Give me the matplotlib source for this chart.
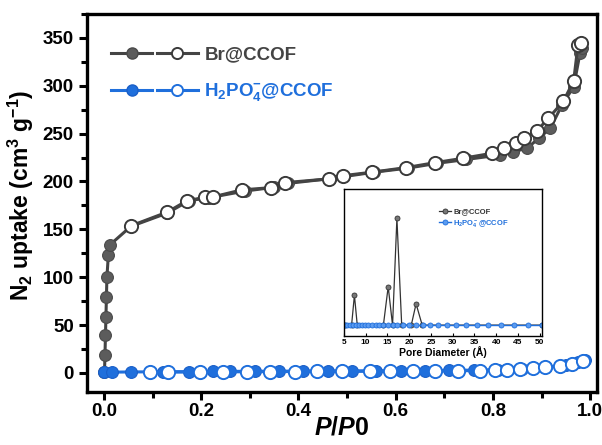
import matplotlib.pyplot as plt
from matplotlib.legend_handler import HandlerTuple
from matplotlib.lines import Line2D
from matplotlib.ticker import MultipleLocator

plt.rcParams['font.family'] = ['Liberation Sans', 'DejaVu Sans']
plt.rcParams['font.weight'] = 'bold'
plt.rcParams['axes.labelweight'] = 'bold'
plt.rcParams['mathtext.fontset'] = 'custom'
plt.rcParams['mathtext.rm'] = 'Liberation Sans:bold'
plt.rcParams['mathtext.bf'] = 'Liberation Sans:bold'
plt.rcParams['mathtext.it'] = 'Liberation Sans:bold:italic'
plt.rcParams['mathtext.default'] = 'bf'

# N2 isotherm, Br@CCOF (adsorption / desorption)
br_ads_p = [0.001, 0.002, 0.003, 0.004, 0.005, 0.006, 0.009, 0.012,
            0.055, 0.13, 0.175, 0.215, 0.29, 0.35, 0.378, 0.465, 0.555, 0.625,
            0.685, 0.745, 0.815, 0.842, 0.87, 0.894, 0.918, 0.942, 0.966, 0.979, 0.983]
br_ads_v = [1, 18.8, 39.7, 58.8, 79.7, 100.3, 123.3, 133.7,
            153, 167, 180, 183, 190, 194, 198, 203, 209.7, 214,
            219, 223, 227.8, 231, 234.8, 245, 255.6, 280, 299, 334, 339]
br_des_p = [0.055, 0.13, 0.17, 0.208, 0.225, 0.283, 0.344, 0.372, 0.462, 0.492,
            0.551, 0.621, 0.681, 0.739, 0.798, 0.822, 0.848, 0.864, 0.89, 0.914,
            0.945, 0.966, 0.975, 0.981]
br_des_v = [153.6, 168, 179.7, 183.6, 184, 191.2, 193.6, 198.8, 202.7, 206.1,
            209.7, 214.5, 219.7, 224.3, 229.5, 235.4, 240, 245, 252.8, 266,
            284, 305, 343, 345]

# N2 isotherm, H2PO4-@CCOF
hp_ads_p = [0.001, 0.016, 0.055, 0.122, 0.175, 0.225, 0.26, 0.31, 0.36, 0.41, 0.46,
            0.51, 0.56, 0.61, 0.66, 0.71, 0.76, 0.81, 0.86, 0.91, 0.95, 0.975, 0.99]
hp_ads_v = [0.5, 0.8, 1.0, 1.2, 1.3, 1.5, 1.6, 1.7, 1.8, 1.9, 2.0,
            2.1, 2.2, 2.3, 2.5, 2.7, 2.9, 3.3, 4.2, 5.8, 8.0, 11.0, 14.0]
hp_des_p = [0.095, 0.132, 0.198, 0.245, 0.294, 0.342, 0.393, 0.438, 0.489, 0.547,
            0.588, 0.636, 0.681, 0.729, 0.774, 0.804, 0.829, 0.856, 0.883, 0.907,
            0.938, 0.962, 0.985]
hp_des_v = [0.8, 0.9, 1.0, 1.1, 1.2, 1.3, 1.4, 1.5, 1.6, 1.7,
            1.8, 1.9, 2.0, 2.2, 2.5, 2.8, 3.2, 4.0, 5.2, 6.0,
            7.5, 9.8, 12.5]

# pore size distribution (inset)
psd_br_d = [5.2, 6.8, 7.45, 8.1, 14.1, 15.2, 16.2, 17.2, 18.3, 20.5, 21.6, 23.0, 50.6]
psd_br_f = [0, 0, 0.28, 0, 0, 0.36, 0, 1.0, 0, 0, 0.2, 0, 0]
psd_hp_d = [5.23, 5.84, 6.5, 7.14, 7.76, 8.45, 9.13, 9.82, 10.6, 11.4, 12.3, 13.2,
            14.1, 15.2, 16.2, 17.3, 18.5, 19.9, 21.5, 23.1, 24.8, 26.7, 28.7, 30.7,
            33.0, 35.5, 38.1, 41.1, 44.1, 47.3, 50.6]
psd_hp_f = [0, 0, 0, 0, 0, 0, 0, 0, 0, 0, 0, 0,
            0, 0, 0, 0, 0, 0, 0, 0, 0, 0, 0, 0,
            0, 0, 0, 0, 0, 0, 0]

GREY_LINE = '#444444'
GREY_BALL = '#5c5c5c'
BLUE = '#1f6fdc'

fig = plt.figure(figsize=(6.02, 4.45), dpi=100)
ax = fig.add_axes([0.1445, 0.119, 0.8472, 0.8495])

ax.plot(br_ads_p, br_ads_v, '-', color=GREY_LINE, lw=2.2, marker='o', ms=8.5,
        mfc=GREY_BALL, mec='#4a4a4a', mew=0.8, zorder=3)
ax.plot(br_des_p, br_des_v, '-', color=GREY_LINE, lw=2.2, marker='o', ms=9.5,
        mfc='white', mec='#3a3a3a', mew=1.4, zorder=4)
ax.plot(hp_ads_p, hp_ads_v, '-', color=BLUE, lw=2.2, marker='o', ms=8.5,
        mfc=BLUE, mec='#1a5fc8', mew=0.8, zorder=5)
ax.plot(hp_des_p, hp_des_v, '-', color=BLUE, lw=2.2, marker='o', ms=9.5,
        mfc='white', mec=BLUE, mew=1.4, zorder=6)

ax.set_xlim(-0.035, 1.014)
ax.set_ylim(-20, 375)
ax.xaxis.set_major_locator(MultipleLocator(0.2))
ax.xaxis.set_minor_locator(MultipleLocator(0.1))
ax.yaxis.set_major_locator(MultipleLocator(50))
ax.yaxis.set_minor_locator(MultipleLocator(25))
ax.xaxis.set_major_formatter(plt.FormatStrFormatter('%.1f'))
ax.tick_params(which='both', direction='out', width=2.2, labelsize=13.5)
ax.tick_params(which='major', length=6)
ax.tick_params(which='minor', length=4)
ax.tick_params(axis='x', pad=2)
for s in ax.spines.values():
    s.set_linewidth(2.4)

ax.set_xlabel(r'$\mathit{P/P0}$', fontsize=18, labelpad=-3)
ax.set_ylabel(r'N$_2$ uptake (cm$^3$ g$^{-1}$)', fontsize=16.5)
ax.yaxis.set_label_coords(-0.1, 0.52)

# legend: filled (adsorption) + open (desorption) for each sample
h_br = (Line2D([], [], color=GREY_LINE, lw=2.2, marker='o', ms=8, mfc=GREY_BALL, mec='#4a4a4a'),
        Line2D([], [], color=GREY_LINE, lw=2.2, marker='o', ms=8, mfc='white', mec='#3a3a3a', mew=1.4))
h_hp = (Line2D([], [], color=BLUE, lw=2.2, marker='o', ms=8, mfc=BLUE, mec='#1a5fc8'),
        Line2D([], [], color=BLUE, lw=2.2, marker='o', ms=8, mfc='white', mec=BLUE, mew=1.4))
leg = ax.legend([h_br, h_hp], ['Br@CCOF', r'H$_2$PO$_4^{-}$@CCOF'],
                handler_map={tuple: HandlerTuple(ndivide=None, pad=0.25)},
                loc='upper left', bbox_to_anchor=(0.048, 0.915), frameon=False,
                fontsize=13.5, handlelength=4.6, handletextpad=0.35,
                labelspacing=0.95, borderpad=0, borderaxespad=0, numpoints=1)
leg.get_texts()[0].set_color('#444444')
leg.get_texts()[1].set_color(BLUE)

# inset: pore size distribution
ins = fig.add_axes([0.571, 0.245, 0.329, 0.330])
ins.plot(psd_br_d, psd_br_f, '-', color='#333333', lw=0.9, marker='o', ms=3.6,
         mfc='#777777', mec='#333333', mew=0.6, label='Br@CCOF')
ins.plot(psd_hp_d, psd_hp_f, '-', color=BLUE, lw=1.0, marker='o', ms=3.6,
         mfc='#5b9bf0', mec=BLUE, mew=0.6, label=r'H$_2$PO$_4^-$@CCOF')
ins.set_xlim(5, 50.45)
ins.set_ylim(-0.102, 1.275)
ins.xaxis.set_major_locator(MultipleLocator(5))
ins.set_yticks([])
ins.tick_params(axis='x', direction='in', length=2, width=0.8, labelsize=6, pad=2)
for s in ins.spines.values():
    s.set_linewidth(1.0)
ins.set_xlabel('Pore Diameter (Å)', fontsize=7.5, labelpad=0)
ileg = ins.legend(loc='upper left', bbox_to_anchor=(0.48, 0.87), frameon=False,
                  fontsize=5.5, handlelength=1.6, handletextpad=0.3,
                  labelspacing=0.3, borderpad=0, borderaxespad=0)
ileg.get_texts()[0].set_color('#333333')
ileg.get_texts()[1].set_color(BLUE)

fig.savefig('out.png', dpi=100)
